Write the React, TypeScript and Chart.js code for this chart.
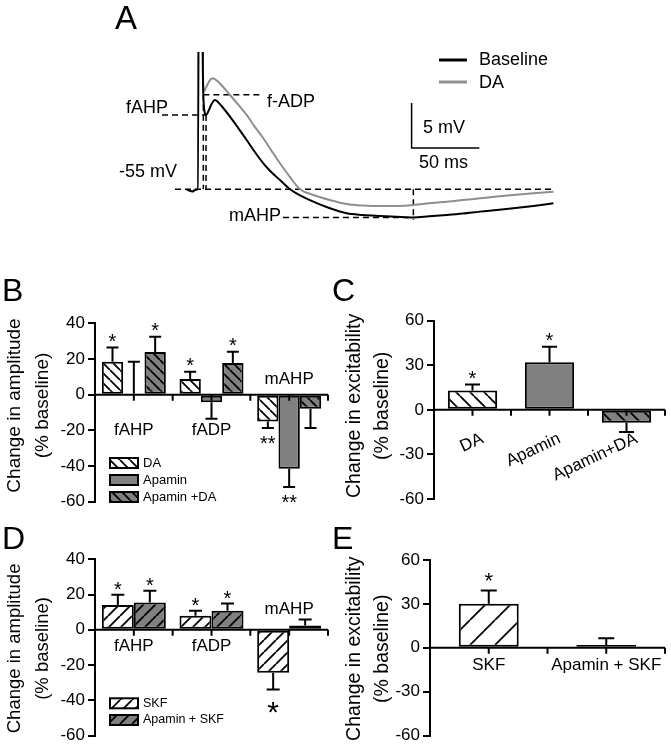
import React, { useEffect, useRef } from 'react';
import { Chart, registerables } from 'chart.js';
Chart.register(...registerables);

const FONT = "'Liberation Sans', Arial, Helvetica, sans-serif";
const GRAY = '#808080';
const TRACE_GRAY = '#8f8f8f';

// ---------- Panel A: membrane potential traces (time ms, mV) ----------
const baselineTime = [-9, -7, -5, -3, -1, -0.6, 0.2, 2.0, 2.8, 3.2, 4.0, 5.2, 7, 9, 11.8, 14, 17, 22.9, 29, 35.2, 41, 47.5, 53.5, 59.8, 67.2, 75, 84.4, 96.7, 109.1, 121, 133.7, 146, 158.3, 170, 182.9, 195, 207.5, 220, 232.1, 247, 261.7];
const baselineMv = [-55.0, -55.15, -55.25, -55.1, -55.0, -55.0, 20, 20, -40, -44.5, -46.3, -46.74, -46.3, -45.6, -45.08, -45.3, -45.8, -46.93, -48.2, -49.52, -50.8, -52.11, -53.1, -53.97, -55.0, -55.7, -56.37, -57.11, -57.67, -57.85, -57.96, -58.05, -58.12, -58.0, -57.86, -57.7, -57.48, -57.3, -57.11, -56.85, -56.56];
const daTime = [-9, -7, -5, -3, -1, -0.6, 0.2, 2.0, 2.8, 3.3, 3.9, 5.5, 7.5, 10.1, 13, 17, 22.9, 29, 35.2, 41, 47.5, 53.5, 59.8, 67, 74.6, 84.4, 96.7, 109.1, 121, 133.7, 146, 158.3, 170, 182.9, 195, 207.5, 220, 232.1, 247, 261.7];
const daMv = [-55.0, -55.15, -55.2, -55.05, -55.0, -55.0, 20, 20, -40, -43.6, -44.08, -43.6, -43.0, -42.67, -42.9, -43.5, -44.52, -45.6, -46.74, -48.0, -49.33, -50.7, -52.11, -53.6, -55.0, -55.63, -56.19, -56.63, -56.8, -56.86, -56.85, -56.74, -56.55, -56.37, -56.2, -56.0, -55.8, -55.63, -55.45, -55.26];
const restingMv = -55;
const scaleBarMs = 50;
const scaleBarMv = 5;

// ---------- Panel B ----------
const categoriesB = ['fAHP', 'fADP', 'mAHP'];
const daB = [18.5, 8.8, -15];
const daErrB = [8, 4.1, 3.7];
const daStarsB = ['*', '*', '**'];
const apaminB = [0.5, -4.3, -41.5];
const apaminErrB = [18, 9.2, 10.3];
const apaminStarsB = ['', '', '**'];
const apaminDaB = [23.9, 17.8, -7.9];
const apaminDaErrB = [8.6, 6.3, 10.8];
const apaminDaStarsB = ['*', '*', ''];
const ticksAmp = [-60, -40, -20, 0, 20, 40];

// ---------- Panel C ----------
const categoriesC = ['DA', 'Apamin', 'Apamin+DA'];
const excC = [13.1, 32, -8.6];
const excErrC = [4, 10.4, 6.3];
const starsC = ['*', '*', ''];
const ticksExc = [-60, -30, 0, 30, 60];

// ---------- Panel D ----------
const categoriesD = ['fAHP', 'fADP', 'mAHP'];
const skfD = [14, 8, -24.4];
const skfErrD = [5.9, 2.8, 9.5];
const skfStarsD = ['*', '*', '*'];
const apSkfD = [15.5, 10.8, 2.4];
const apSkfErrD = [6.7, 4.1, 3.4];
const apSkfStarsD = ['*', '*', ''];

// ---------- Panel E ----------
const categoriesE = ['SKF', 'Apamin + SKF'];
const excE = [30.1, 1.8];
const excErrE = [9, 4.7];
const starsE = ['*', ''];

function hatch(bg: string, dir: '/' | '\\', s: number, lw = 1.8) {
  const c = document.createElement('canvas');
  c.width = s; c.height = s;
  const g = c.getContext('2d')!;
  g.fillStyle = bg; g.fillRect(0, 0, s, s);
  g.strokeStyle = '#000'; g.lineWidth = lw;
  g.beginPath();
  for (const o of [-s, 0, s]) {
    if (dir === '\\') { g.moveTo(o, 0); g.lineTo(o + s, s); }
    else { g.moveTo(o, s); g.lineTo(o + s, 0); }
  }
  g.stroke();
  return g.createPattern(c, 'repeat')!;
}

function drawStar(ctx: CanvasRenderingContext2D, text: string, x: number, yc: number, size: number) {
  ctx.font = `${size}px ${FONT}`;
  ctx.textAlign = 'center';
  ctx.textBaseline = 'alphabetic';
  ctx.fillStyle = '#000';
  ctx.fillText(text, x, yc + size * 0.575);
}

interface DecorCfg {
  errors: number[][];
  stars: string[][];
  cap: number;
  starSize: number;
  starGapUp: number;
  starGapDown: number;
  starBelowSize?: number;
  groupLabels?: { values: number[]; font: number };
  rotatedLabels?: { dx: number; dy: number; angle: number; font: number };
  flatLabels?: { dy: number; font: number };
  legend?: { x: number; y: number; row: number; font: number; boxW: number; boxH: number };
  title: string[];
  titleX: number[];
  titleDy: number;
  titleFont: number;
  letter: { text: string; x: number; y: number };
}

function makeDecor(cfg: DecorCfg) {
  return {
    id: 'decor',
    afterDatasetsDraw(chart: any) {
      const ctx: CanvasRenderingContext2D = chart.ctx;
      const ca = chart.chartArea;
      const xs = chart.scales.x;
      const ys = chart.scales.y;
      const y0 = ys.getPixelForValue(0);
      ctx.save();
      ctx.strokeStyle = '#000';
      ctx.fillStyle = '#000';
      chart.data.datasets.forEach((ds: any, di: number) => {
        const meta = chart.getDatasetMeta(di);
        ds.data.forEach((v: number, i: number) => {
          const el = meta.data[i];
          const e = cfg.errors[di][i];
          const dir = v < 0 ? -1 : 1;
          const y1 = ys.getPixelForValue(v);
          const y2 = ys.getPixelForValue(v + dir * e);
          ctx.lineWidth = 2;
          ctx.beginPath();
          ctx.moveTo(el.x, y1); ctx.lineTo(el.x, y2);
          ctx.moveTo(el.x - cfg.cap / 2, y2); ctx.lineTo(el.x + cfg.cap / 2, y2);
          ctx.stroke();
          const s = cfg.stars[di][i];
          if (s) {
            if (dir > 0) drawStar(ctx, s, el.x, y2 - cfg.starGapUp, cfg.starSize);
            else drawStar(ctx, s, el.x, y2 + cfg.starGapDown, cfg.starBelowSize || cfg.starSize);
          }
        });
      });
      ctx.lineWidth = 2;
      ctx.beginPath();
      ctx.moveTo(ca.left, y0); ctx.lineTo(ca.right, y0);
      const n = chart.data.labels.length;
      for (let i = 0; i < n; i++) {
        for (const v of [i, i + 0.5]) {
          const px = xs.getPixelForValue(v);
          ctx.moveTo(px, y0); ctx.lineTo(px, y0 + 6);
        }
      }
      ctx.stroke();
      const labels: string[] = chart.data.labels;
      if (cfg.groupLabels) {
        ctx.font = `${cfg.groupLabels.font}px ${FONT}`;
        ctx.textAlign = 'center'; ctx.textBaseline = 'middle';
        labels.forEach((l, i) => ctx.fillText(l, xs.getPixelForValue(i), ys.getPixelForValue(cfg.groupLabels!.values[i])));
      }
      if (cfg.flatLabels) {
        ctx.font = `${cfg.flatLabels.font}px ${FONT}`;
        ctx.textAlign = 'center'; ctx.textBaseline = 'middle';
        labels.forEach((l, i) => ctx.fillText(l, xs.getPixelForValue(i), y0 + cfg.flatLabels!.dy));
      }
      if (cfg.rotatedLabels) {
        const r = cfg.rotatedLabels;
        ctx.font = `${r.font}px ${FONT}`;
        ctx.textAlign = 'right'; ctx.textBaseline = 'middle';
        labels.forEach((l, i) => {
          ctx.save();
          ctx.translate(xs.getPixelForValue(i) + r.dx, y0 + r.dy);
          ctx.rotate(-r.angle * Math.PI / 180);
          ctx.fillText(l, 0, 0);
          ctx.restore();
        });
      }
      if (cfg.legend) {
        const lg = cfg.legend;
        chart.data.datasets.forEach((ds: any, di: number) => {
          const cy = lg.y + di * lg.row;
          ctx.fillStyle = ds.backgroundColor;
          ctx.fillRect(lg.x, cy - lg.boxH / 2, lg.boxW, lg.boxH);
          ctx.lineWidth = 2;
          ctx.strokeRect(lg.x, cy - lg.boxH / 2, lg.boxW, lg.boxH);
          ctx.fillStyle = '#000';
          ctx.font = `${lg.font}px ${FONT}`;
          ctx.textAlign = 'left'; ctx.textBaseline = 'middle';
          ctx.fillText(ds.label, lg.x + lg.boxW + 5, cy);
        });
      }
      ctx.font = `${cfg.titleFont}px ${FONT}`;
      ctx.textAlign = 'center'; ctx.textBaseline = 'middle';
      const yc = (ca.top + ca.bottom) / 2 + cfg.titleDy;
      cfg.title.forEach((t, k) => {
        ctx.save();
        ctx.translate(cfg.titleX[k], yc);
        ctx.rotate(-Math.PI / 2);
        ctx.fillText(t, 0, 0);
        ctx.restore();
      });
      ctx.font = `32px ${FONT}`;
      ctx.textAlign = 'left'; ctx.textBaseline = 'alphabetic';
      ctx.fillText(cfg.letter.text, cfg.letter.x, cfg.letter.y);
      ctx.restore();
    },
  };
}

function yAxis(min: number, max: number, ticks: number[], width: number) {
  return {
    min, max,
    afterFit: (s: any) => { s.width = width; },
    afterBuildTicks: (s: any) => { s.ticks = ticks.map((v) => ({ value: v })); },
    ticks: { font: { size: 17, family: FONT, lineHeight: 1 }, color: '#000', padding: 3 },
    grid: { drawOnChartArea: false, color: '#000', lineWidth: 2, tickLength: 7 },
    border: { display: true, color: '#000', width: 2 },
  };
}

function baseOptions(padding: any, y: any) {
  return {
    responsive: false,
    animation: false,
    devicePixelRatio: 1,
    layout: { padding },
    plugins: { legend: { display: false }, tooltip: { enabled: false } },
    scales: { x: { display: false, offset: true }, y },
  };
}

// canvas frames: B/C top 270, D/E top 520; C/E left 320
function makeB() {
  const bar = { borderColor: '#000', borderWidth: 2, borderSkipped: false, categoryPercentage: 0.824, barPercentage: 1 };
  return {
    type: 'bar',
    data: {
      labels: categoriesB,
      datasets: [
        { label: 'DA', data: daB, backgroundColor: hatch('#fff', '\\', 10), ...bar },
        { label: 'Apamin', data: apaminB, backgroundColor: GRAY, ...bar },
        { label: 'Apamin +DA', data: apaminDaB, backgroundColor: hatch(GRAY, '\\', 10), ...bar },
      ],
    },
    options: baseOptions({ left: 0, right: 12, top: 53.3, bottom: 18.3 }, yAxis(-60, 40, ticksAmp, 95)),
    plugins: [makeDecor({
      errors: [daErrB, apaminErrB, apaminDaErrB],
      stars: [daStarsB, apaminStarsB, apaminDaStarsB],
      cap: 12, starSize: 20, starGapUp: 11, starGapDown: 10,
      groupLabels: { values: [-20, -20, 8.5], font: 17 },
      legend: { x: 110, y: 193, row: 17, font: 13, boxW: 28, boxH: 10 },
      title: ['Change in amplitude', '(% baseline)'], titleX: [15, 43], titleDy: -7, titleFont: 19,
      letter: { text: 'B', x: 2, y: 31 },
    })],
  };
}

function makeC() {
  return {
    type: 'bar',
    data: {
      labels: categoriesC,
      datasets: [{
        label: 'Excitability', data: excC,
        backgroundColor: [hatch('#fff', '\\', 14), GRAY, hatch(GRAY, '\\', 14)],
        borderColor: '#000', borderWidth: 2, borderSkipped: false, categoryPercentage: 1, barPercentage: 0.64,
      }],
    },
    options: baseOptions({ left: 0, right: 6, top: 50.7, bottom: 21 }, yAxis(-60, 60, ticksExc, 114)),
    plugins: [makeDecor({
      errors: [excErrC], stars: [starsC],
      cap: 15, starSize: 20, starGapUp: 11, starGapDown: 10,
      rotatedLabels: { dx: 10, dy: 28, angle: 25, font: 17 },
      title: ['Change in excitability', '(% baseline)'], titleX: [35, 63], titleDy: -4, titleFont: 19.5,
      letter: { text: 'C', x: 12, y: 31 },
    })],
  };
}

function makeD() {
  const bar = { borderColor: '#000', borderWidth: 2, borderSkipped: false, categoryPercentage: 0.824, barPercentage: 1 };
  return {
    type: 'bar',
    data: {
      labels: categoriesD,
      datasets: [
        { label: 'SKF', data: skfD, backgroundColor: hatch('#fff', '/', 12), ...bar },
        { label: 'Apamin + SKF', data: apSkfD, backgroundColor: hatch(GRAY, '/', 12), ...bar },
      ],
    },
    options: baseOptions({ left: 0, right: 12, top: 39.3, bottom: 8.7 }, yAxis(-60, 40, ticksAmp, 95)),
    plugins: [makeDecor({
      errors: [skfErrD, apSkfErrD], stars: [skfStarsD, apSkfStarsD],
      cap: 13, starSize: 20, starGapUp: 10, starGapDown: 15, starBelowSize: 30,
      groupLabels: { values: [-9.5, -9.5, 11.7], font: 17 },
      legend: { x: 110, y: 183.3, row: 16.7, font: 12.5, boxW: 28, boxH: 10 },
      title: ['Change in amplitude', '(% baseline)'], titleX: [15, 43], titleDy: 1, titleFont: 18.5,
      letter: { text: 'D', x: 2, y: 29 },
    })],
  };
}

function makeE() {
  return {
    type: 'bar',
    data: {
      labels: categoriesE,
      datasets: [{
        label: 'Excitability', data: excE,
        backgroundColor: [hatch('#fff', '/', 25), hatch(GRAY, '/', 25)],
        borderColor: '#000', borderWidth: 2, borderSkipped: false, categoryPercentage: 1, barPercentage: 0.51,
      }],
    },
    options: baseOptions({ left: 0, right: 6, top: 40, bottom: 8.7 }, yAxis(-60, 60, ticksExc, 110)),
    plugins: [makeDecor({
      errors: [excErrE], stars: [starsE],
      cap: 16, starSize: 22, starGapUp: 15, starGapDown: 10,
      flatLabels: { dy: 18, font: 17 },
      title: ['Change in excitability', '(% baseline)'], titleX: [35, 63], titleDy: 1, titleFont: 19.5,
      letter: { text: 'E', x: 12, y: 29 },
    })],
  };
}

function pts(t: number[], v: number[]) {
  return t.map((x, i) => ({ x, y: v[i] }));
}

function makeA() {
  const base = pts(baselineTime, baselineMv);
  const post = base.filter((p) => p.x > 3);
  const fAHP = post.filter((p) => p.x < 9).reduce((a, b) => (b.y < a.y ? b : a));
  const fADP = post.filter((p) => p.x < 30).reduce((a, b) => (b.y > a.y ? b : a));
  const mAHP = base.filter((p) => p.x > 30).reduce((a, b) => (b.y < a.y ? b : a));
  const guide = (data: any[]) => ({
    data, borderColor: '#000', borderWidth: 1.5, borderDash: [6, 4], pointRadius: 0, tension: 0,
  });
  const sbT = 157, sbV = -50.41;
  const texts = [
    { t: 'A', x: 115, y: 29, size: 33 },
    { t: 'fAHP', x: 126, y: 113, size: 18 },
    { t: '-55 mV', x: 119, y: 177, size: 18 },
    { t: 'f-ADP', x: 267, y: 107, size: 18 },
    { t: 'mAHP', x: 229, y: 221, size: 18 },
    { t: '5 mV', x: 423, y: 133, size: 18 },
    { t: '50 ms', x: 419, y: 168, size: 18 },
    { t: 'Baseline', x: 479, y: 65, size: 18 },
    { t: 'DA', x: 479, y: 88, size: 18 },
  ];
  const textPlugin = {
    id: 'textsA',
    afterDraw(chart: any) {
      const ctx: CanvasRenderingContext2D = chart.ctx;
      ctx.save();
      ctx.fillStyle = '#000';
      ctx.textAlign = 'left'; ctx.textBaseline = 'alphabetic';
      texts.forEach((it) => { ctx.font = `${it.size}px ${FONT}`; ctx.fillText(it.t, it.x, it.y); });
      ctx.lineWidth = 3;
      ctx.strokeStyle = '#000';
      ctx.beginPath(); ctx.moveTo(439, 60); ctx.lineTo(467, 60); ctx.stroke();
      ctx.strokeStyle = TRACE_GRAY;
      ctx.beginPath(); ctx.moveTo(439, 82); ctx.lineTo(467, 82); ctx.stroke();
      ctx.restore();
    },
  };
  return {
    type: 'line',
    data: {
      datasets: [
        { label: 'Baseline', data: base, borderColor: '#000', borderWidth: 2, pointRadius: 0, cubicInterpolationMode: 'monotone' },
        { label: 'DA', data: pts(daTime, daMv), borderColor: TRACE_GRAY, borderWidth: 2, pointRadius: 0, cubicInterpolationMode: 'monotone' },
        guide([{ x: -17.7, y: restingMv }, { x: 261.5, y: restingMv }]),
        guide([{ x: -27.3, y: fAHP.y }, { x: fAHP.x, y: fAHP.y }]),
        guide([{ x: fAHP.x, y: fAHP.y }, { x: fAHP.x, y: restingMv }]),
        guide([{ x: fADP.x, y: fADP.y }, { x: 45, y: fADP.y }]),
        guide([{ x: fADP.x, y: fADP.y }, { x: fADP.x, y: restingMv }]),
        guide([{ x: 62, y: mAHP.y }, { x: mAHP.x, y: mAHP.y }]),
        guide([{ x: mAHP.x, y: restingMv }, { x: mAHP.x, y: mAHP.y - 0.3 }]),
        { data: [{ x: sbT, y: sbV + scaleBarMv }, { x: sbT, y: sbV }, { x: sbT + scaleBarMs, y: sbV }], borderColor: '#000', borderWidth: 1.5, pointRadius: 0, tension: 0 },
      ],
    },
    options: {
      responsive: false,
      animation: false,
      devicePixelRatio: 1,
      layout: { padding: { left: 104.2, right: 79.3, top: 52.05, bottom: 5.2 } },
      plugins: { legend: { display: false }, tooltip: { enabled: false } },
      scales: {
        x: { type: 'linear', min: -70, max: 290, display: false },
        y: { min: -59.5, max: -39.75, display: false },
      },
    },
    plugins: [textPlugin],
  };
}

function ChartBox({ make, left, top, width, height }: { make: () => any; left: number; top: number; width: number; height: number }) {
  const ref = useRef<HTMLCanvasElement>(null);
  useEffect(() => {
    const chart = new Chart(ref.current!, make());
    return () => chart.destroy();
  }, []);
  return <canvas ref={ref} width={width} height={height} style={{ position: 'absolute', left, top, width, height }} />;
}

export default function App() {
  return (
    <div style={{ position: 'absolute', left: 0, top: 0, width: 671, height: 747, background: '#fff', overflow: 'hidden' }}>
      <ChartBox make={makeA} left={0} top={0} width={671} height={235} />
      <ChartBox make={makeB} left={0} top={270} width={340} height={250} />
      <ChartBox make={makeC} left={320} top={270} width={351} height={250} />
      <ChartBox make={makeD} left={0} top={520} width={340} height={227} />
      <ChartBox make={makeE} left={320} top={520} width={351} height={227} />
    </div>
  );
}
